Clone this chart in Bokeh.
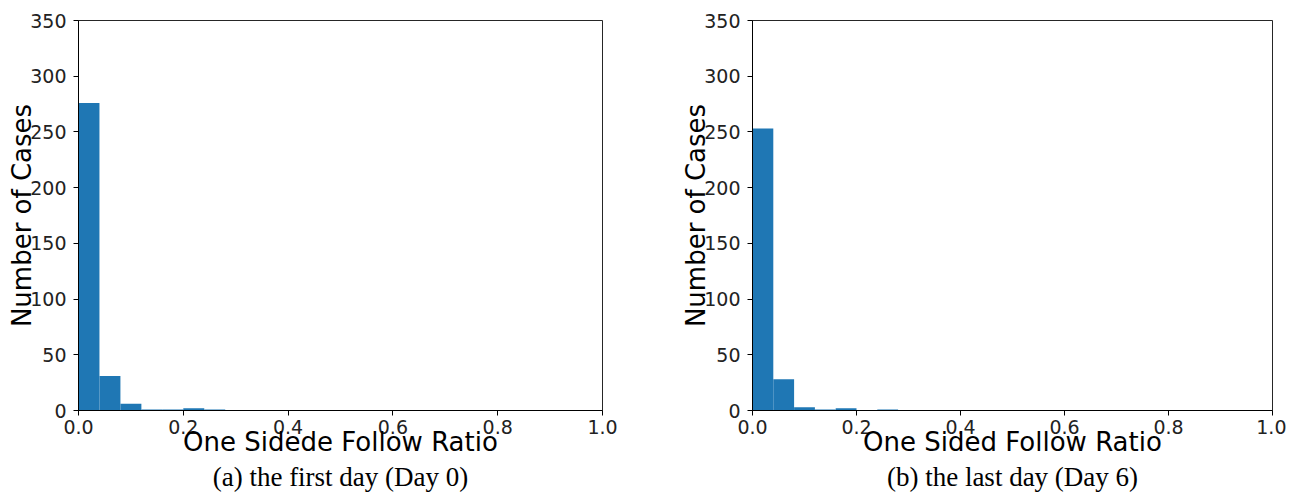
import numpy as np
from bokeh.plotting import figure
from bokeh.layouts import row
from bokeh.models import FixedTicker, Range1d, Title
from bokeh.embed import file_html
from bokeh.resources import INLINE

# ---- data ----
bin_edges = [round(0.04 * i, 2) for i in range(26)]
counts_day0 = [276, 31, 6, 1, 1, 2, 1] + [0] * 18
counts_day6 = [253, 28, 3, 1, 2, 0, 1] + [0] * 18
x_ticks = [0.0, 0.2, 0.4, 0.6, 0.8, 1.0]
x_tick_labels = ["0.0", "0.2", "0.4", "0.6", "0.8", "1.0"]
y_ticks = [0, 50, 100, 150, 200, 250, 300, 350]
x_labels = ["One Sidede Follow Ratio", "One Sided Follow Ratio"]
captions = ["(a) the first day (Day 0)", "(b) the last day (Day 6)"]

BAR = "#1f77b4"


def make_panel(counts, xlabel, caption, width, border_left, border_right):
    p = figure(width=width, height=492, output_backend="svg", toolbar_location=None,
               x_range=Range1d(0, 1), y_range=Range1d(0, 350),
               min_border_left=border_left, min_border_right=border_right,
               min_border_top=20, min_border_bottom=10)
    p.grid.visible = False
    p.background_fill_color = "white"
    p.border_fill_color = "white"
    p.outline_line_color = "black"
    p.outline_line_width = 1
    p.outline_line_alpha = 0.85

    left = bin_edges[:-1]
    right = bin_edges[1:]
    p.quad(left=left, right=right, bottom=[0] * len(counts), top=counts,
           fill_color=BAR, line_color=None)

    for ax in (p.xaxis[0], p.yaxis[0]):
        ax.major_tick_in = 0
        ax.major_tick_out = 5
        ax.minor_tick_line_color = None
        ax.major_tick_line_color = "black"
        ax.axis_line_color = "black"
        ax.major_label_text_font = "DejaVu Sans"
        ax.major_label_text_font_size = "19px"
        ax.major_label_text_color = "#222222"
        ax.axis_label_text_font = "DejaVu Sans"
        ax.axis_label_text_font_size = "26px"
        ax.axis_label_text_font_style = "normal"
        ax.axis_label_text_color = "black"

    p.xaxis.ticker = FixedTicker(ticks=x_ticks)
    p.xaxis.major_label_overrides = {t: l for t, l in zip(x_ticks, x_tick_labels)}
    p.xaxis.major_label_standoff = 4
    p.xaxis.axis_label = xlabel
    p.xaxis.axis_label_standoff = -10

    p.yaxis.ticker = FixedTicker(ticks=y_ticks)
    p.yaxis.major_label_standoff = 7
    p.yaxis.axis_label = "Number of Cases"
    p.yaxis.axis_label_standoff = -10

    t = Title(text=caption, align="center", text_font="Liberation Serif",
              text_font_size="27px", text_font_style="normal", text_color="black",
              standoff=1)
    p.add_layout(t, "below")
    return p


p1 = make_panel(counts_day0, x_labels[0], captions[0], 678, 78, 76)
p2 = make_panel(counts_day6, x_labels[1], captions[1], 608, 70, 14)
layout = row(p1, p2)

open("out.html", "w").write(file_html(layout, INLINE))
